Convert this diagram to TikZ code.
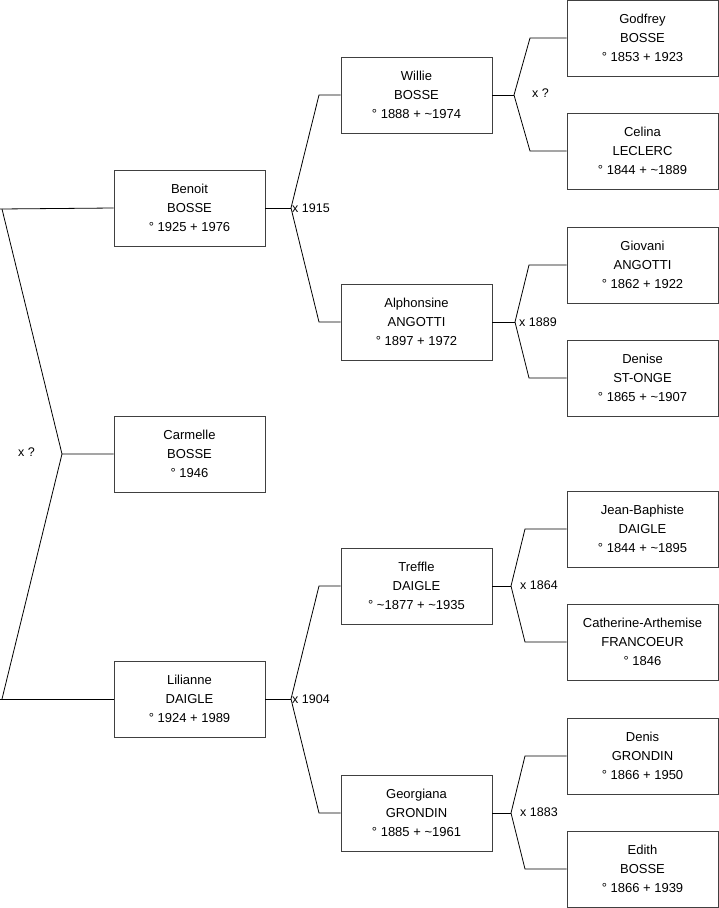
\documentclass[tikz,border=0pt]{standalone}
\usepackage{fontspec}
\setmainfont{Liberation Sans}
\begin{document}
\begin{tikzpicture}[x=1pt,y=-1pt,
  person/.style={draw=black!75, line width=0.9pt, minimum width=151pt, minimum height=76pt,
    inner sep=0pt, align=center, font=\fontsize{13}{19}\selectfont, fill=white},
  link/.style={draw=black, line width=0.8pt},
  marr/.style={anchor=west, inner sep=0pt, font=\fontsize{12.5}{14}\selectfont}]
\useasboundingbox (0,0) rectangle (719,908);
% column 1
\node[person] (benoit) at (189.5,208) {Benoit\\BOSSE\\° 1925 + 1976};
\node[person] (carmelle) at (189.5,454) {Carmelle\\BOSSE\\° 1946};
\node[person] (lilianne) at (189.5,699) {Lilianne\\DAIGLE\\° 1924 + 1989};
% column 2
\node[person] (willie) at (416.5,95) {Willie\\BOSSE\\° 1888 + \textasciitilde1974};
\node[person] (alphonsine) at (416.5,322) {Alphonsine\\ANGOTTI\\° 1897 + 1972};
\node[person] (treffle) at (416.5,586) {Treffle\\DAIGLE\\° \textasciitilde1877 + \textasciitilde1935};
\node[person] (georgiana) at (416.5,813) {Georgiana\\GRONDIN\\° 1885 + \textasciitilde1961};
% column 3
\node[person] (godfrey) at (642.5,38) {Godfrey\\BOSSE\\° 1853 + 1923};
\node[person] (celina) at (642.5,151) {Celina\\LECLERC\\° 1844 + \textasciitilde1889};
\node[person] (giovani) at (642.5,265) {Giovani\\ANGOTTI\\° 1862 + 1922};
\node[person] (denise) at (642.5,378) {Denise\\ST-ONGE\\° 1865 + \textasciitilde1907};
\node[person] (jeanb) at (642.5,529) {Jean-Baphiste\\DAIGLE\\° 1844 + \textasciitilde1895};
\node[person] (catherine) at (642.5,642) {Catherine-Arthemise\\FRANCOEUR\\° 1846};
\node[person] (denis) at (642.5,756) {Denis\\GRONDIN\\° 1866 + 1950};
\node[person] (edith) at (642.5,869) {Edith\\BOSSE\\° 1866 + 1939};
% junction coordinates
\coordinate (j0) at (2,209);
\coordinate (j0c) at (62,454);
\coordinate (j0b) at (2,699);
\coordinate (jb) at (291,208);
\coordinate (jbu) at (319,95);
\coordinate (jbd) at (319,322);
\coordinate (jl) at (291,699);
\coordinate (jlu) at (319,586);
\coordinate (jld) at (319,813);
\coordinate (jw) at (514,95);
\coordinate (jwu) at (530,38);
\coordinate (jwd) at (530,151);
\coordinate (ja) at (515,322);
\coordinate (jau) at (529,265);
\coordinate (jad) at (529,378);
\coordinate (jt) at (511,586);
\coordinate (jtu) at (525,529);
\coordinate (jtd) at (525,642);
\coordinate (jg) at (511,813);
\coordinate (jgu) at (525,756);
\coordinate (jgd) at (525,869);
% generation 0
\draw[link] (0,209) -- (benoit.west);
\draw[link] (j0) -- (j0c) -- (carmelle.west);
\draw[link] (j0c) -- (j0b);
\draw[link] (0,699) -- (lilianne.west);
\node[marr] (m0) at (18,452) {x ?};
% Benoit
\draw[link] (benoit.east) -- (jb);
\draw[link] (jb) -- (jbu) -- (willie.west);
\draw[link] (jb) -- (jbd) -- (alphonsine.west);
\node[marr] (m1) at (292,208) {x 1915};
% Lilianne
\draw[link] (lilianne.east) -- (jl);
\draw[link] (jl) -- (jlu) -- (treffle.west);
\draw[link] (jl) -- (jld) -- (georgiana.west);
\node[marr] (m2) at (292,699) {x 1904};
% Willie
\draw[link] (willie.east) -- (jw);
\draw[link] (jw) -- (jwu) -- (godfrey.west);
\draw[link] (jw) -- (jwd) -- (celina.west);
\node[marr] (m3) at (532,93) {x ?};
% Alphonsine
\draw[link] (alphonsine.east) -- (ja);
\draw[link] (ja) -- (jau) -- (giovani.west);
\draw[link] (ja) -- (jad) -- (denise.west);
\node[marr] (m4) at (519,322) {x 1889};
% Treffle
\draw[link] (treffle.east) -- (jt);
\draw[link] (jt) -- (jtu) -- (jeanb.west);
\draw[link] (jt) -- (jtd) -- (catherine.west);
\node[marr] (m5) at (520,585) {x 1864};
% Georgiana
\draw[link] (georgiana.east) -- (jg);
\draw[link] (jg) -- (jgu) -- (denis.west);
\draw[link] (jg) -- (jgd) -- (edith.west);
\node[marr] (m6) at (520,812) {x 1883};
\end{tikzpicture}
\end{document}
